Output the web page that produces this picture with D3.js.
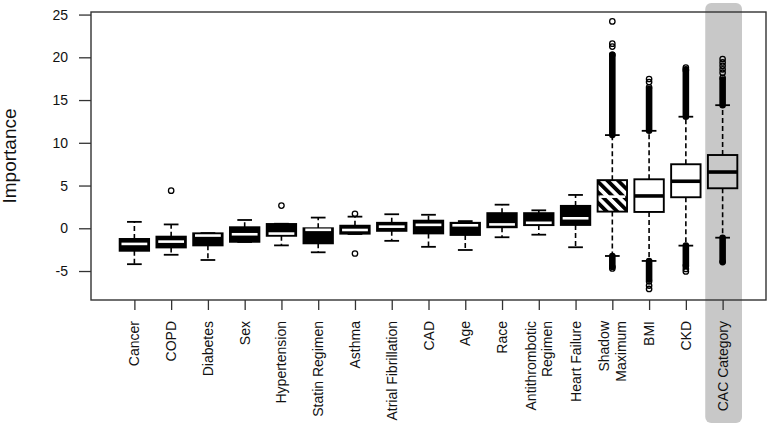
<!DOCTYPE html>
<html>
<head>
<meta charset="utf-8">
<script src="https://cdn.jsdelivr.net/npm/d3@7"></script>
<style>
  html, body { margin: 0; padding: 0; background: #fff; }
  svg { display: block; }
  text { font-family: "Liberation Sans", Arial, sans-serif; fill: #111; }
</style>
</head>
<body>
<svg id="chart" width="770" height="427"></svg>
<script>
// ---------- data ----------
const categories = ["Cancer", "COPD", "Diabetes", "Sex", "Hypertension", "Statin Regimen",
  "Asthma", "Atrial Fibrillation", "CAD", "Age", "Race", "Antithrombotic\nRegimen",
  "Heart Failure", "Shadow\nMaximum", "BMI", "CKD", "CAC Category"];
const whiskerLow  = [-4.2, -3.1, -3.71, -1.6, -2.0, -2.81, -0.67, -1.47, -2.17, -2.54, -1.05, -0.75, -2.22, -3.24, -3.82, -2.03, -1.1];
const q1          = [-2.63, -2.24, -2.0, -1.58, -0.88, -1.76, -0.63, -0.3, -0.6, -0.78, 0.12, 0.37, 0.39, 1.95, 1.91, 3.63, 4.68];
const median      = [-1.83, -1.56, -0.85, -0.7, -0.62, -0.18, -0.2, 0.19, 0.4, 0.35, 0.45, 0.64, 1.17, 3.7, 3.78, 5.5, 6.58];
const q3          = [-1.25, -0.98, -0.59, 0.12, 0.5, 0.0, 0.3, 0.64, 0.89, 0.64, 1.77, 1.77, 2.62, 5.63, 5.73, 7.49, 8.57];
const whiskerHigh = [0.75, 0.45, -0.56, 0.97, 0.53, 1.25, 1.36, 1.64, 1.58, 0.84, 2.76, 2.1, 3.9, 10.9, 11.4, 13.05, 14.4];

// individual outliers
const outlierCategory = ["COPD", "Hypertension", "Asthma", "Asthma",
  "Shadow\nMaximum", "Shadow\nMaximum", "Shadow\nMaximum", "Shadow\nMaximum", "Shadow\nMaximum", "Shadow\nMaximum",
  "BMI", "BMI", "BMI", "BMI", "BMI", "BMI",
  "CKD", "CKD", "CKD", "CKD", "CKD",
  "CAC Category", "CAC Category", "CAC Category", "CAC Category", "CAC Category", "CAC Category", "CAC Category"];
const outlierValue = [4.4, 2.65, 1.7, -2.95,
  24.2, 21.6, 21.25, 20.3, -4.5, -4.7,
  17.46, 17.1, 16.5, -6.2, -6.7, -7.1,
  18.8, 18.5, -4.4, -4.75, -5.05,
  19.8, 19.4, 19.0, 18.6, 18.2, 17.6, -3.95];

// dense runs of overlapping outliers (drawn as a solid column)
const denseCategory = ["Shadow\nMaximum", "Shadow\nMaximum", "BMI", "BMI", "CKD", "CKD", "CAC Category", "CAC Category"];
const denseLow  = [10.9, -4.45, 11.4, -6.0, 13.05, -4.3, 14.4, -3.85];
const denseHigh = [20.3, -3.24, 16.3, -3.82, 18.6, -2.03, 17.4, -1.1];

const yTicks = [-5, 0, 5, 10, 15, 20, 25];
const yTitle = "Importance";

// style groups (not data)
const hatchedCategory = "Shadow\nMaximum";
const openCategories = ["BMI", "CKD", "CAC Category"];
const highlightCategory = "CAC Category";

// ---------- layout ----------
const svg = d3.select("#chart");
const plot = { left: 91, right: 766, top: 12, bottom: 300 };

const x = d3.scaleLinear().domain([-0.18, categories.length + 1.18]).range([plot.left, plot.right]);
const y = d3.scaleLinear().domain([-8.39, 25.3]).range([plot.bottom, plot.top]);
const xPos = c => x(categories.indexOf(c) + 1);
const unit = x(1) - x(0);
const boxW = unit * 0.8;
const capW = unit * 0.4;

// hatch pattern
const defs = svg.append("defs");
const pat = defs.append("pattern").attr("id", "hatch")
  .attr("patternUnits", "userSpaceOnUse").attr("width", 7.5).attr("height", 7.5)
  .attr("patternTransform", "rotate(-45)");
pat.append("rect").attr("width", 7.5).attr("height", 7.5).attr("fill", "#fff");
pat.append("rect").attr("width", 3.8).attr("height", 7.5).attr("fill", "#000");

// highlight
svg.append("rect")
  .attr("x", xPos(highlightCategory) - unit / 2 + 1)
  .attr("y", 3).attr("width", unit).attr("height", 420)
  .attr("rx", 6).attr("fill", "#c8c8c8");

// boxes
const g = svg.append("g");
categories.forEach((c, i) => {
  const cx = xPos(c);
  const isOpen = openCategories.includes(c);
  const isHatch = c === hatchedCategory;
  const isHighlight = c === highlightCategory;
  // whiskers
  [[q3[i], whiskerHigh[i]], [q1[i], whiskerLow[i]]].forEach(([a, b]) => {
    if (Math.abs(y(a) - y(b)) > 0.5) {
      g.append("line").attr("x1", cx).attr("x2", cx).attr("y1", y(a)).attr("y2", y(b))
        .attr("stroke", "#000").attr("stroke-width", 1.6).attr("stroke-dasharray", "5,3");
    }
    g.append("line").attr("x1", cx - capW / 2).attr("x2", cx + capW / 2)
      .attr("y1", y(b)).attr("y2", y(b)).attr("stroke", "#000").attr("stroke-width", 1.8);
  });
  // box
  const fill = isHighlight ? "none" : isHatch ? "url(#hatch)" : isOpen ? "#fff" : "#000";
  g.append("rect").attr("x", cx - boxW / 2).attr("width", boxW)
    .attr("y", y(q3[i])).attr("height", y(q1[i]) - y(q3[i]))
    .attr("fill", fill).attr("stroke", "#000").attr("stroke-width", 1.9);
  // median
  const darkBox = !isOpen && !isHighlight;
  g.append("line")
    .attr("x1", cx - boxW / 2 + (darkBox ? 1.8 : 0)).attr("x2", cx + boxW / 2 - (darkBox ? 1.8 : 0))
    .attr("y1", y(median[i])).attr("y2", y(median[i]))
    .attr("stroke", darkBox ? "#fff" : "#000").attr("stroke-width", darkBox ? 2.6 : 3.6);
});

// dense outlier columns
const r = 2.7;
denseCategory.forEach((c, i) => {
  const cx = xPos(c);
  const top = y(denseHigh[i]) - r - 0.6, bot = y(denseLow[i]) + r + 0.6;
  g.append("rect").attr("x", cx - r - 0.6).attr("width", 2 * r + 1.2)
    .attr("y", top).attr("height", bot - top).attr("rx", r + 0.6).attr("fill", "#000");
});
// individual outliers
outlierCategory.forEach((c, i) => {
  g.append("circle").attr("cx", xPos(c)).attr("cy", y(outlierValue[i])).attr("r", r)
    .attr("fill", "none").attr("stroke", "#000").attr("stroke-width", 1.3);
});

// frame
svg.append("rect").attr("x", plot.left).attr("y", plot.top)
  .attr("width", plot.right - plot.left).attr("height", plot.bottom - plot.top)
  .attr("fill", "none").attr("stroke", "#333").attr("stroke-width", 1.4);

// y axis
const yAxis = svg.append("g").attr("transform", `translate(${plot.left},0)`)
  .call(d3.axisLeft(y).tickValues(yTicks).tickSize(12).tickPadding(11).tickFormat(d3.format("d")));
yAxis.select(".domain").remove();
yAxis.selectAll(".tick line").attr("stroke", "#333").attr("stroke-width", 1.3);
yAxis.selectAll(".tick text").style("font-size", "14px").attr("fill", "#111")
  .style("font-family", "'Liberation Sans', Arial, sans-serif").text(d => d < 0 ? "-" + Math.abs(d) : d);

svg.append("text").attr("transform", `translate(16,156) rotate(-90)`)
  .attr("text-anchor", "middle").style("font-size", "19px").text(yTitle);

// x axis
const xAxis = svg.append("g").attr("transform", `translate(0,${plot.bottom})`)
  .call(d3.axisBottom(x).tickValues(d3.range(1, categories.length + 1)).tickSize(10).tickFormat(""));
xAxis.select(".domain").remove();
xAxis.selectAll(".tick line").attr("stroke", "#333").attr("stroke-width", 1.3);

categories.forEach((c, i) => {
  const lines = c.split("\n");
  const cx = x(i + 1);
  lines.forEach((ln, j) => {
    const off = (j - (lines.length - 1) / 2) * 16.5;
    svg.append("text")
      .attr("transform", `translate(${cx + off},321) rotate(-90)`)
      .attr("text-anchor", "end").attr("dy", "0.36em")
      .style("font-size", "14px").text(ln);
  });
});
</script>
</body>
</html>
